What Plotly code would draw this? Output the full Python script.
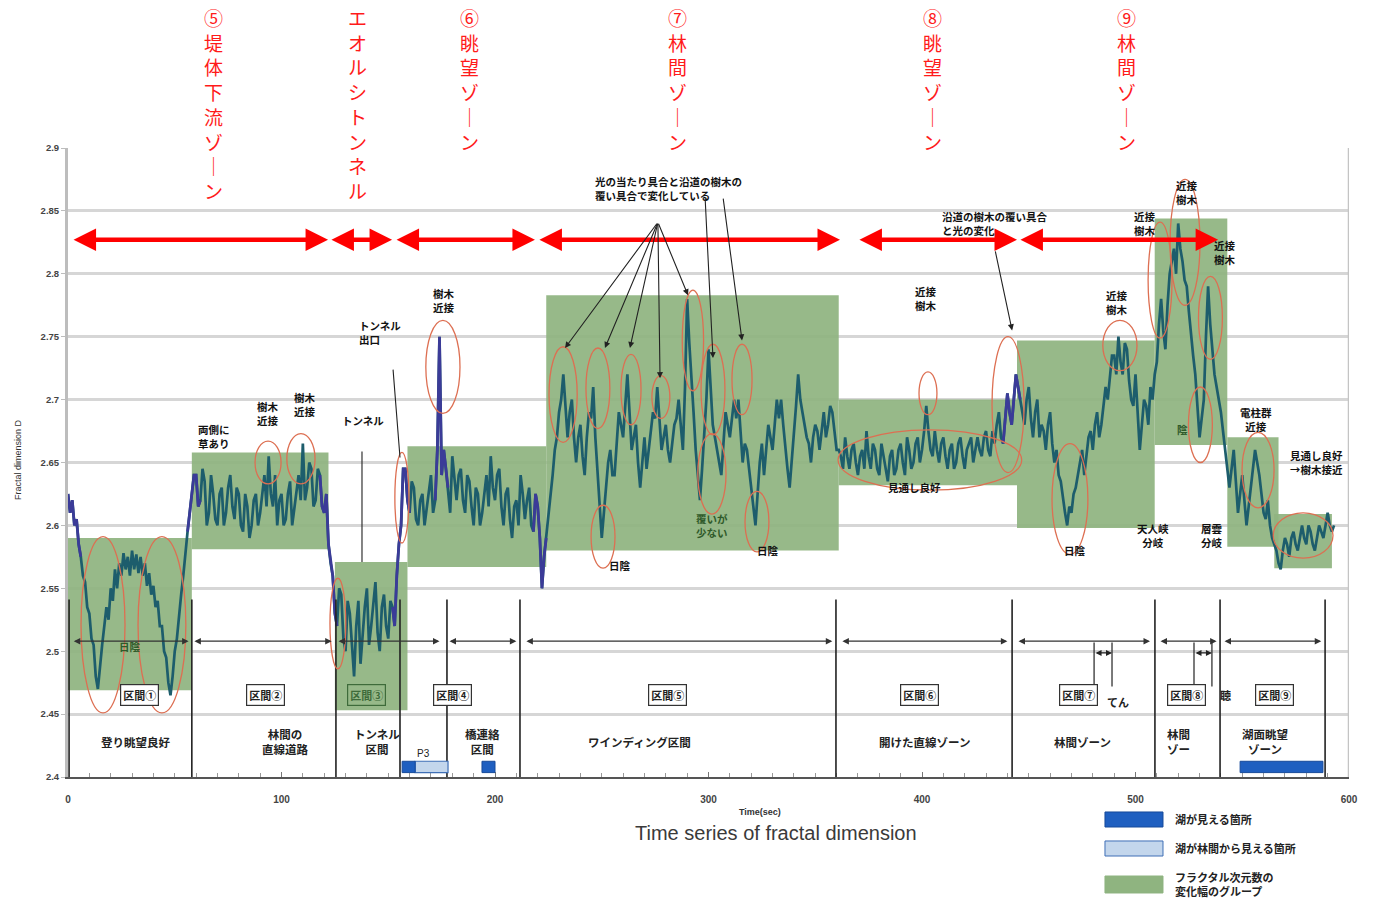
import plotly.graph_objects as go

# ---------------- data ----------------
# fractal dimension, one pair of readings (t, t+1 s) per two-second window
fd_zone1 = [(2.625, 2.61), (2.62, 2.60), (2.605, 2.585), (2.575, 2.56), (2.555, 2.535), (2.53, 2.51),
            (2.505, 2.48), (2.47, 2.49), (2.505, 2.52), (2.535, 2.525), (2.55, 2.54), (2.565, 2.55),
            (2.57, 2.56), (2.578, 2.565), (2.575, 2.56), (2.58, 2.565), (2.577, 2.562), (2.575, 2.56),
            (2.57, 2.552), (2.562, 2.545), (2.552, 2.535), (2.54, 2.52), (2.52, 2.50), (2.495, 2.475),
            (2.465, 2.48), (2.50, 2.51), (2.53, 2.545), (2.56, 2.58), (2.595, 2.61), (2.625, 2.64)]
fd_zone2 = [(2.64, 2.615), (2.62, 2.645), (2.635, 2.60), (2.61, 2.64), (2.625, 2.605), (2.60, 2.625),
            (2.63, 2.60), (2.61, 2.63), (2.64, 2.615), (2.605, 2.63), (2.625, 2.60), (2.595, 2.625),
            (2.615, 2.59), (2.60, 2.62), (2.625, 2.60), (2.61, 2.625), (2.64, 2.615), (2.655, 2.625),
            (2.615, 2.64), (2.60, 2.62), (2.625, 2.60), (2.605, 2.625), (2.635, 2.60), (2.615, 2.625),
            (2.64, 2.62), (2.665, 2.62), (2.63, 2.65), (2.645, 2.615), (2.62, 2.645), (2.64, 2.615),
            (2.61, 2.625), (2.585, 2.57)]
fd_zone3 = [(2.56, 2.53), (2.52, 2.55), (2.545, 2.51), (2.50, 2.54), (2.53, 2.505), (2.48, 2.52),
            (2.54, 2.49), (2.515, 2.535), (2.55, 2.505), (2.52, 2.54), (2.555, 2.515), (2.50, 2.535),
            (2.545, 2.52), (2.51, 2.54), (2.535, 2.52), (2.56, 2.585), (2.60, 2.645)]
fd_zone4 = [(2.645, 2.62), (2.61, 2.635), (2.63, 2.605), (2.60, 2.62), (2.625, 2.60), (2.615, 2.625),
            (2.64, 2.61), (2.62, 2.66), (2.75, 2.64), (2.66, 2.645), (2.63, 2.61), (2.655, 2.635),
            (2.62, 2.64), (2.645, 2.62), (2.61, 2.64), (2.635, 2.615), (2.60, 2.63), (2.625, 2.60),
            (2.61, 2.625), (2.64, 2.615), (2.655, 2.63), (2.62, 2.64), (2.645, 2.615), (2.60, 2.625),
            (2.63, 2.605), (2.59, 2.615), (2.62, 2.60), (2.64, 2.625), (2.605, 2.62), (2.63, 2.60),
            (2.595, 2.625), (2.615, 2.59), (2.55, 2.575)]
fd_zone5 = [(2.59, 2.61), (2.62, 2.64), (2.66, 2.67), (2.69, 2.70), (2.72, 2.69), (2.67, 2.69),
            (2.70, 2.67), (2.65, 2.67), (2.68, 2.655), (2.64, 2.67), (2.69, 2.685), (2.71, 2.67),
            (2.64, 2.61), (2.59, 2.61), (2.63, 2.65), (2.66, 2.64), (2.64, 2.665), (2.69, 2.68),
            (2.67, 2.695), (2.72, 2.69), (2.66, 2.67), (2.68, 2.65), (2.63, 2.65), (2.67, 2.645),
            (2.66, 2.675), (2.69, 2.685), (2.71, 2.685), (2.66, 2.67), (2.68, 2.66), (2.65, 2.665),
            (2.68, 2.685), (2.70, 2.68), (2.66, 2.71), (2.78, 2.745), (2.72, 2.69), (2.66, 2.64),
            (2.62, 2.645), (2.67, 2.70), (2.74, 2.71), (2.68, 2.67), (2.66, 2.65), (2.64, 2.665),
            (2.69, 2.68), (2.67, 2.685), (2.70, 2.685), (2.70, 2.675), (2.65, 2.665), (2.66, 2.645),
            (2.63, 2.615), (2.60, 2.625), (2.65, 2.665), (2.64, 2.66), (2.68, 2.67), (2.66, 2.68),
            (2.70, 2.685), (2.70, 2.68), (2.66, 2.645), (2.63, 2.65), (2.67, 2.695), (2.72, 2.70),
            (2.69, 2.68), (2.67, 2.665), (2.65, 2.67), (2.68, 2.675), (2.66, 2.675), (2.69, 2.67),
            (2.68, 2.695), (2.69, 2.675), (2.66, 2.66)]
fd_zone6 = [(2.655, 2.645), (2.67, 2.655), (2.645, 2.66), (2.665, 2.65), (2.64, 2.655), (2.66, 2.645),
            (2.675, 2.655), (2.645, 2.665), (2.66, 2.645), (2.64, 2.665), (2.655, 2.645), (2.635, 2.655),
            (2.66, 2.64), (2.645, 2.66), (2.665, 2.65), (2.64, 2.67), (2.66, 2.645), (2.65, 2.665),
            (2.67, 2.65), (2.66, 2.675), (2.695, 2.675), (2.66, 2.655), (2.675, 2.66), (2.65, 2.665),
            (2.67, 2.655), (2.645, 2.66), (2.665, 2.645), (2.65, 2.665), (2.67, 2.655), (2.645, 2.66),
            (2.665, 2.67), (2.65, 2.66), (2.67, 2.66), (2.655, 2.67), (2.675, 2.66), (2.655, 2.675),
            (2.665, 2.68), (2.69, 2.67), (2.665, 2.685), (2.705, 2.69), (2.68, 2.70), (2.72, 2.71)]
fd_zone7 = [(2.70, 2.69), (2.68, 2.70), (2.71, 2.685), (2.67, 2.69), (2.70, 2.67), (2.68, 2.675),
            (2.66, 2.68), (2.69, 2.665), (2.65, 2.66), (2.64, 2.635), (2.62, 2.61), (2.60, 2.615),
            (2.61, 2.625), (2.63, 2.64), (2.65, 2.66), (2.64, 2.655), (2.67, 2.675), (2.66, 2.68),
            (2.69, 2.67), (2.68, 2.695), (2.71, 2.70), (2.72, 2.735), (2.735, 2.72), (2.75, 2.73),
            (2.72, 2.745), (2.74, 2.715), (2.70, 2.695), (2.72, 2.69), (2.66, 2.68), (2.70, 2.695),
            (2.68, 2.71), (2.70, 2.72)]
fd_zone8 = [(2.73, 2.76), (2.78, 2.755), (2.74, 2.775), (2.80, 2.81), (2.82, 2.80), (2.84, 2.82),
            (2.81, 2.795), (2.79, 2.77), (2.75, 2.735), (2.72, 2.69), (2.67, 2.685), (2.70, 2.75),
            (2.79, 2.76), (2.74, 2.72), (2.71, 2.70), (2.69, 2.675), (2.66, 2.645)]
fd_zone9 = [(2.63, 2.645), (2.66, 2.635), (2.61, 2.625), (2.64, 2.62), (2.60, 2.615), (2.63, 2.645),
            (2.66, 2.65), (2.64, 2.625), (2.61, 2.605), (2.62, 2.60), (2.59, 2.585), (2.58, 2.57)]
fd_zone10 = [(2.565, 2.58), (2.59, 2.585), (2.575, 2.59), (2.595, 2.585), (2.58, 2.59), (2.60, 2.59),
             (2.585, 2.60), (2.595, 2.585), (2.58, 2.59), (2.60, 2.595), (2.59, 2.60), (2.61, 2.60),
             (2.595, 2.60)]

# stretches of the series drawn in the darker blue tone (start, end seconds)
blue_spans = [(0, 6), (56, 62), (118, 126), (152, 160), (172, 178), (218, 224), (438, 446)]

# groups of fractal-dimension variation: start, end (sec), low, high
group_start = [0, 58, 125, 159, 224, 361, 444.5, 509, 543, 565]
group_end = [58, 122, 159, 224, 361, 444.5, 509, 543, 567, 592]
group_low = [2.469, 2.581, 2.453, 2.567, 2.580, 2.632, 2.598, 2.664, 2.583, 2.566]
group_high = [2.590, 2.658, 2.571, 2.663, 2.783, 2.700, 2.747, 2.844, 2.670, 2.609]

# zone headings and their spans (red arrows)
zone_titles = ["⑤堤体下流ゾーン", "エオルシトンネル", "⑥眺望ゾーン", "⑦林間ゾーン", "⑧眺望ゾーン", "⑨林間ゾーン"]
zone_title_t = [68.0, 135.4, 188.0, 285.7, 405.1, 496.0]
zone_span_start = [1.9, 122.7, 153.2, 220.1, 370.0, 445.4]
zone_span_end = [121.8, 151.8, 218.7, 361.6, 444.5, 538.7]

# section boundaries and section spans
section_lines = [0.5, 58, 125.5, 155.5, 177.5, 211.7, 359.7, 442.2, 509.1, 539.6, 588.8]
section_span_start = [2, 58.5, 126, 178, 214, 362, 444.5, 511, 541]
section_span_end = [56.5, 123.5, 174, 210, 358, 440, 506.8, 538, 587]
section_names = ["区間①", "区間②", "区間③", "区間④", "区間⑤", "区間⑥", "区間⑦", "区間⑧", "区間⑨"]
section_name_t = [33.7, 92.3, 140.0, 179.9, 281.0, 398.6, 473.1, 524.1, 564.9]
section_desc = ["登り眺望良好", "林間の<br>直線道路", "トンネル<br>区間", "橋連絡<br>区間", "ワインディング区間",
                "開けた直線ゾーン", "林間ゾーン", "林間<br>ゾー", "湖面眺望<br>ゾーン"]
section_desc_t = [31.4, 101.7, 133.0, 185.0, 267.9, 401.4, 475.0, 513.8, 549.0]
section_desc_anchor = ["center", "center", "left", "left", "center", "center", "center", "left", "left"]

# lake visibility intervals (sec)
lake_visible = [(156.5, 162.6), (193.9, 200.0), (549.0, 587.8)]
lake_through_trees = [(162.6, 178.0)]

# remarks on the series: t, D, text, anchor
remark_t = [245.9, 408.4, 401.9, 491.3, 504.4, 524.1, 541.9, 176.1, 135.4, 127.4, 60.0, 93.7, 111.0,
            556.4, 571.4, 396.7, 258.5, 301.6, 327.9, 471.7, 508.2, 535.8, 521.8, 29.0]
remark_d = [2.868, 2.840, 2.780, 2.777, 2.840, 2.865, 2.817, 2.779, 2.753, 2.683, 2.671, 2.689, 2.696,
            2.684, 2.650, 2.630, 2.568, 2.600, 2.580, 2.580, 2.592, 2.592, 2.676, 2.504]
remark_text = ["光の当たり具合と沿道の樹木の<br>覆い具合で変化している", "沿道の樹木の覆い具合<br>と光の変化",
               "近接<br>樹木", "近接<br>樹木", "近接<br>樹木", "近接<br>樹木", "近接<br>樹木", "樹木<br>近接",
               "トンネル<br>出口", "トンネル", "両側に<br>草あり", "樹木<br>近接", "樹木<br>近接",
               "電柱群<br>近接", "見通し良好<br>→樹木接近", "見通し良好", "日陰", "覆いが<br>少ない", "日陰",
               "日陰", "天人峡<br>分岐", "層雲<br>分岐", "陰", "日陰"]
remark_anchor = ["left", "left", "center", "center", "center", "center", "center", "center", "left", "left",
                 "left", "center", "center", "center", "left", "center", "center", "center", "center",
                 "center", "center", "center", "center", "center"]
remark_color = ["#111"] * 17 + ["#2f5a2a"] + ["#111"] * 4 + ["#2f5a2a", "#2f5a2a"]

# pointer lines: tail (t, D) -> head (t, D), with / without head
pointer_tail = [(276.3, 2.841)] * 5 + [(298.4, 2.861), (306.8, 2.861), (434.2, 2.819), (152.2, 2.725),
                                       (137.7, 2.660)]
pointer_head = [(232.8, 2.741), (251.5, 2.741), (263.2, 2.741), (277.3, 2.717), (290.4, 2.783),
                (302.1, 2.733), (315.7, 2.747), (442.2, 2.755), (155.5, 2.654), (137.7, 2.571)]
pointer_has_head = [True] * 8 + [False, False]

# highlighted features: centre t, centre D, half-width (sec), half-height (D)
ring_t = [16.4, 44.0, 126.4, 156.4, 175.6, 93.7, 109.1, 231.9, 248.2, 263.7, 277.7, 292.7, 302.1, 315.7,
          250.6, 322.7, 301.6, 402.8, 440.3, 469.3, 492.7, 511.5, 523.2, 535.1, 530.4, 557.4, 578.5, 403.7]
ring_d = [2.521, 2.521, 2.522, 2.622, 2.726, 2.650, 2.653, 2.704, 2.709, 2.708, 2.702, 2.747, 2.708, 2.716,
          2.591, 2.603, 2.641, 2.705, 2.696, 2.621, 2.743, 2.795, 2.825, 2.765, 2.680, 2.644, 2.592, 2.652]
ring_rt = [10.3, 11.2, 3.7, 3.3, 8.0, 6.1, 6.6, 6.6, 5.6, 4.7, 4.2, 5.0, 5.6, 4.7,
           5.6, 5.6, 6.6, 4.2, 7.5, 8.4, 8.0, 5.6, 7.0, 5.6, 5.6, 7.5, 14.0, 43.0]
ring_rd = [0.070, 0.070, 0.036, 0.036, 0.037, 0.017, 0.020, 0.038, 0.032, 0.028, 0.017, 0.040, 0.036, 0.028,
           0.025, 0.024, 0.032, 0.017, 0.054, 0.044, 0.020, 0.046, 0.050, 0.033, 0.030, 0.030, 0.018, 0.024]

# ---------------- assemble series ----------------
all_zones = [fd_zone1, fd_zone2, fd_zone3, fd_zone4, fd_zone5, fd_zone6, fd_zone7, fd_zone8, fd_zone9,
             fd_zone10]
fd_values = [v for zone in all_zones for pair in zone for v in pair]
time_sec = list(range(len(fd_values)))

CJK = "Noto Sans CJK JP"
TEAL = "#1d5d6c"
NAVY = "#3b3b98"
GREEN = "#8fb480"
RING = "#dd6f52"

fig = go.Figure()

fig.add_trace(go.Scatter(x=time_sec, y=fd_values, mode="lines",
                         line=dict(color=TEAL, width=2.7), showlegend=False, hoverinfo="skip"))
for a, b in blue_spans:
    xs = [t for t in time_sec if a <= t <= b]
    ys = [d for t, d in zip(time_sec, fd_values) if a <= t <= b]
    fig.add_trace(go.Scatter(x=xs, y=ys, mode="lines", line=dict(color=NAVY, width=2.8),
                             showlegend=False, hoverinfo="skip"))

shapes = []
annotations = []

# variation groups
for x0, x1, lo, hi in zip(group_start, group_end, group_low, group_high):
    shapes.append(dict(type="rect", xref="x", yref="y", x0=x0, x1=x1, y0=lo, y1=hi,
                       fillcolor=GREEN, opacity=0.93, line=dict(width=0), layer="between"))

# section boundary lines
for t in section_lines:
    shapes.append(dict(type="line", xref="x", yref="y", x0=t, x1=t, y0=2.4, y1=2.541,
                       line=dict(color="#222", width=1.6)))

# brackets in sections 7 and 8
for a, b in [(480.6, 489.0), (527.4, 535.8)]:
    for t in (a, b):
        shapes.append(dict(type="line", xref="x", yref="y", x0=t, x1=t, y0=2.472, y1=2.507,
                           line=dict(color="#222", width=1.2)))
    annotations.append(dict(x=b, y=2.4986, ax=a, ay=2.4986, xref="x", yref="y", axref="x", ayref="y",
                            text="", showarrow=True, arrowside="end+start", arrowhead=2, startarrowhead=2,
                            arrowwidth=1.2, arrowsize=1, startarrowsize=1, arrowcolor="#222"))

# section spans
for a, b in zip(section_span_start, section_span_end):
    annotations.append(dict(x=b, y=2.508, ax=a, ay=2.508, xref="x", yref="y", axref="x", ayref="y",
                            text="", showarrow=True, arrowside="end+start", arrowhead=2, startarrowhead=2,
                            arrowwidth=1.3, arrowsize=1, startarrowsize=1, arrowcolor="#333"))

# lake visibility bars
for a, b in lake_through_trees:
    shapes.append(dict(type="rect", xref="x", yref="y", x0=a, x1=b, y0=2.4035, y1=2.4125,
                       fillcolor="#c3d6ec", line=dict(color="#3f6fb6", width=1.2)))
for a, b in lake_visible:
    shapes.append(dict(type="rect", xref="x", yref="y", x0=a, x1=b, y0=2.4035, y1=2.4125,
                       fillcolor="#1f5fc0", line=dict(color="#174a9a", width=1)))

# rings
for ct, cd, rt, rd in zip(ring_t, ring_d, ring_rt, ring_rd):
    shapes.append(dict(type="circle", xref="x", yref="y", x0=ct - rt, x1=ct + rt, y0=cd - rd, y1=cd + rd,
                       line=dict(color=RING, width=1.3)))

# right frame
shapes.append(dict(type="line", xref="x", yref="y", x0=600, x1=600, y0=2.4, y1=2.9,
                   line=dict(color="#c4c4c4", width=2.5)))

# red zone arrows
for a, b in zip(zone_span_start, zone_span_end):
    annotations.append(dict(x=b, y=2.827, ax=a, ay=2.827, xref="x", yref="y", axref="x", ayref="y",
                            text="", showarrow=True, arrowside="end+start", arrowhead=2, startarrowhead=2,
                            arrowwidth=4.5, arrowsize=1.0, startarrowsize=1.0, arrowcolor="#ff0000"))

# zone headings written vertically
for title, t in zip(zone_titles, zone_title_t):
    vert = "<br>".join("｜" if ch == "ー" else ch for ch in title)
    annotations.append(dict(x=t, y=1.232, xref="x", yref="paper", text=vert, showarrow=False,
                            xanchor="center", yanchor="top",
                            font=dict(family=CJK, size=19, color="#ff1a1a")))

# section name boxes
for name, t in zip(section_names, section_name_t):
    inside = name == "区間③"
    annotations.append(dict(x=t, y=2.465, xref="x", yref="y", text="<b>%s</b>" % name, showarrow=False,
                            font=dict(family=CJK, size=11, color="#3e6b3a" if inside else "#222"),
                            bordercolor="#3e6b3a" if inside else "#333", borderwidth=1.2, borderpad=2,
                            bgcolor="rgba(0,0,0,0)" if inside else "#ffffff"))

# section descriptions
for txt, t, anc in zip(section_desc, section_desc_t, section_desc_anchor):
    annotations.append(dict(x=t, y=2.428, xref="x", yref="y", text="<b>%s</b>" % txt, showarrow=False,
                            xanchor=anc, yanchor="middle", font=dict(family=CJK, size=11.5, color="#222")))

annotations.append(dict(x=166.5, y=2.419, xref="x", yref="y", text="P3", showarrow=False,
                        font=dict(family="Liberation Sans", size=10, color="#222")))
annotations.append(dict(x=492.0, y=2.460, xref="x", yref="y", text="<b>てん</b>", showarrow=False,
                        font=dict(family=CJK, size=11, color="#222")))
annotations.append(dict(x=542.0, y=2.465, xref="x", yref="y", text="<b>聴</b>", showarrow=False,
                        font=dict(family=CJK, size=11, color="#222")))

# remarks
for t, d, txt, anc, col in zip(remark_t, remark_d, remark_text, remark_anchor, remark_color):
    annotations.append(dict(x=t, y=d, xref="x", yref="y", text="<b>%s</b>" % txt, showarrow=False,
                            xanchor=anc, yanchor="middle", align=anc,
                            font=dict(family=CJK, size=10.5, color=col)))

# pointer lines
for (ta, da), (tb, db), head in zip(pointer_tail, pointer_head, pointer_has_head):
    annotations.append(dict(x=tb, y=db, ax=ta, ay=da, xref="x", yref="y", axref="x", ayref="y", text="",
                            showarrow=True, arrowhead=2 if head else 0, arrowsize=1.1, arrowwidth=1.1,
                            arrowcolor="#222"))

# axis titles
annotations.append(dict(x=-0.039, y=0.504, xref="paper", yref="paper", text="Fractal dimension D",
                        textangle=-90, showarrow=False, xanchor="center", yanchor="middle",
                        font=dict(family="Liberation Sans", size=9, color="#333")))
annotations.append(dict(x=0.540, y=-0.0556, xref="paper", yref="paper", text="<b>Time(sec)</b>",
                        showarrow=False, xanchor="center", yanchor="middle",
                        font=dict(family="Liberation Sans", size=9, color="#333")))
annotations.append(dict(x=0.5527, y=-0.0890, xref="paper", yref="paper", text="Time series of fractal dimension",
                        showarrow=False, xanchor="center", yanchor="middle",
                        font=dict(family="Liberation Sans", size=20, color="#3a3a3a")))

# legend
legend_items = [("#1f5fc0", "#174a9a", -0.0795, -0.0556, "湖が見える箇所", -0.0668),
                ("#c3d6ec", "#3f6fb6", -0.1256, -0.1017, "湖が林間から見える箇所", -0.1129),
                (GREEN, GREEN, -0.1844, -0.1574, "フラクタル次元数の<br>変化幅のグループ", -0.1700)]
for fill, edge, y0, y1, label, ty in legend_items:
    shapes.append(dict(type="rect", xref="paper", yref="paper", x0=0.8095, x1=0.8548, y0=y0, y1=y1,
                       fillcolor=fill, line=dict(color=edge, width=1)))
    annotations.append(dict(x=0.8626, y=ty, xref="paper", yref="paper", text="<b>%s</b>" % label,
                            showarrow=False, xanchor="left", yanchor="middle", align="left",
                            font=dict(family=CJK, size=11, color="#222")))

y_ticks = [2.4, 2.45, 2.5, 2.55, 2.6, 2.65, 2.7, 2.75, 2.8, 2.85, 2.9]
x_ticks = [0, 100, 200, 300, 400, 500, 600]
fig.update_layout(
    width=1378, height=900, autosize=False,
    margin=dict(l=68, r=29, t=148, b=123),
    paper_bgcolor="#ffffff", plot_bgcolor="#ffffff",
    showlegend=False,
    shapes=shapes, annotations=annotations,
    xaxis=dict(range=[0, 600], tickvals=x_ticks, ticktext=["<b>%d</b>" % v for v in x_ticks],
               showgrid=False, zeroline=False,
               showline=True, linecolor="#555", linewidth=2, ticks="inside", ticklen=5, tickcolor="#777",
               minor=dict(dtick=10, ticks="inside", ticklen=4, tickcolor="#999"),
               tickfont=dict(family="Liberation Sans", size=10, color="#444"), ticklabelstandoff=12),
    yaxis=dict(range=[2.4, 2.9], tickvals=y_ticks, ticktext=["<b>%g</b>" % v for v in y_ticks],
               showgrid=True, gridcolor="#d6d6d6", gridwidth=2.5, zeroline=False,
               showline=True, linecolor="#bdbdbd", linewidth=3, ticks="outside", ticklen=4,
               tickcolor="#bdbdbd", tickfont=dict(family="Liberation Sans", size=9.5, color="#444")),
)

fig.write_html("out.html")
